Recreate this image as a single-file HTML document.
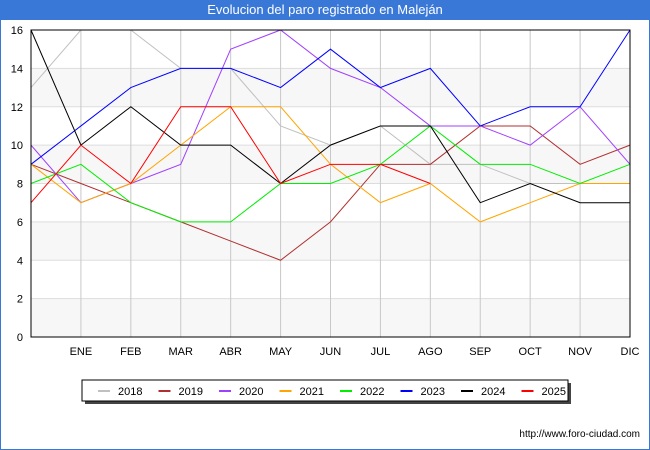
<!DOCTYPE html>
<html><head><meta charset="utf-8"><style>
body{margin:0;width:650px;height:450px;overflow:hidden;background:#fff;font-family:"Liberation Sans","DejaVu Sans",sans-serif}
#wrap{position:absolute;left:0;top:0;width:648px;height:448px;border:1px solid #3a78d8;background:#fff}
#title{position:absolute;left:0;top:0;width:650px;height:20px;background:#3a78d8;color:#fff;font-size:13px;text-align:center;line-height:20px}
</style></head><body>
<div id="wrap"></div>
<div id="title">Evolucion del paro registrado en Maleján</div>
<svg id="chart" width="650" height="450" style="position:absolute;left:0;top:0"></svg>
<script>
const months=["","ENE","FEB","MAR","ABR","MAY","JUN","JUL","AGO","SEP","OCT","NOV","DIC"];
const yTicks=[0,2,4,6,8,10,12,14,16];
const years=["2018","2019","2020","2021","2022","2023","2024","2025"];
const colors=["#c0c0c0","#b03030","#a040ff","#ffa500","#00ee00","#0000ff","#000000","#ff0000"];
const s2018=[13,16,16,14,14,11,10,11,9,9,8,8,8];
const s2019=[9,8,7,6,5,4,6,9,9,11,11,9,10];
const s2020=[10,7,8,9,15,16,14,13,11,11,10,12,9];
const s2021=[9,7,8,10,12,12,9,7,8,6,7,8,8];
const s2022=[8,9,7,6,6,8,8,9,11,9,9,8,9];
const s2023=[9,11,13,14,14,13,15,13,14,11,12,12,16];
const s2024=[16,10,12,10,10,8,10,11,11,7,8,7,7];
const s2025=[7,10,8,12,12,8,9,9,8];
const series=[s2018,s2019,s2020,s2021,s2022,s2023,s2024,s2025];
const L=31,R=630,T=30,B=337,YMAX=16;
const xs=i=>L+(R-L)*i/(months.length-1);
const ys=v=>B-(B-T)*v/YMAX;
const svg=document.getElementById('chart');
const NS="http://www.w3.org/2000/svg";
function mk(tag,at,parent){const e=document.createElementNS(NS,tag);for(const k in at)e.setAttribute(k,at[k]);(parent||svg).appendChild(e);return e;}
for(let i=0;i<yTicks.length-1;i++){
  if(i%2===0){const b=mk('rect',{x:L,y:ys(yTicks[i+1]),width:R-L,height:ys(yTicks[i])-ys(yTicks[i+1]),fill:'#f7f7f7'});
  
  }
}
yTicks.forEach(v=>{
  const g=mk('line',{x1:L,x2:R,y1:ys(v),y2:ys(v),stroke:'#dddddd','stroke-width':1});
  
  
  const t=mk('text',{x:L-8,y:ys(v)+4,'text-anchor':'end','font-size':11,fill:'#000'});
  t.textContent=v;
  
  
});
months.forEach((m,i)=>{
  if(i>0){const g=mk('line',{x1:xs(i),x2:xs(i),y1:T,y2:B,stroke:'#c8c8c8','stroke-width':1});
  
  
  const t=mk('text',{x:xs(i),y:B+18,'text-anchor':'middle','font-size':11,fill:'#000'});
  t.textContent=m;
  
  }
});
series.forEach((s,k)=>{
  const p=mk('polyline',{points:s.map((v,i)=>xs(i)+','+ys(v)).join(' '),fill:'none',stroke:colors[k],'stroke-width':1});
  
  
});
const fr=mk('rect',{x:L,y:T,width:R-L,height:B-T,fill:'none',stroke:'#000','stroke-width':1});


const sh=mk('rect',{x:85,y:383,width:486,height:21,fill:'#444'});


const lg=mk('rect',{x:82,y:380,width:486,height:21,fill:'#fff',stroke:'#000','stroke-width':1});


years.forEach((y,k)=>{
  const x0=98+k*60.5;
  const l=mk('line',{x1:x0,x2:x0+12,y1:391,y2:391,stroke:colors[k],'stroke-width':2});
  
  
  const t=mk('text',{x:x0+20,y:395,'font-size':11,fill:'#000'});
  t.textContent=y;
  
  
});
const u=mk('text',{x:640,y:437,'text-anchor':'end','font-size':10,fill:'#000'});
u.textContent='http://www.foro-ciudad.com';


</script>
</body></html>
